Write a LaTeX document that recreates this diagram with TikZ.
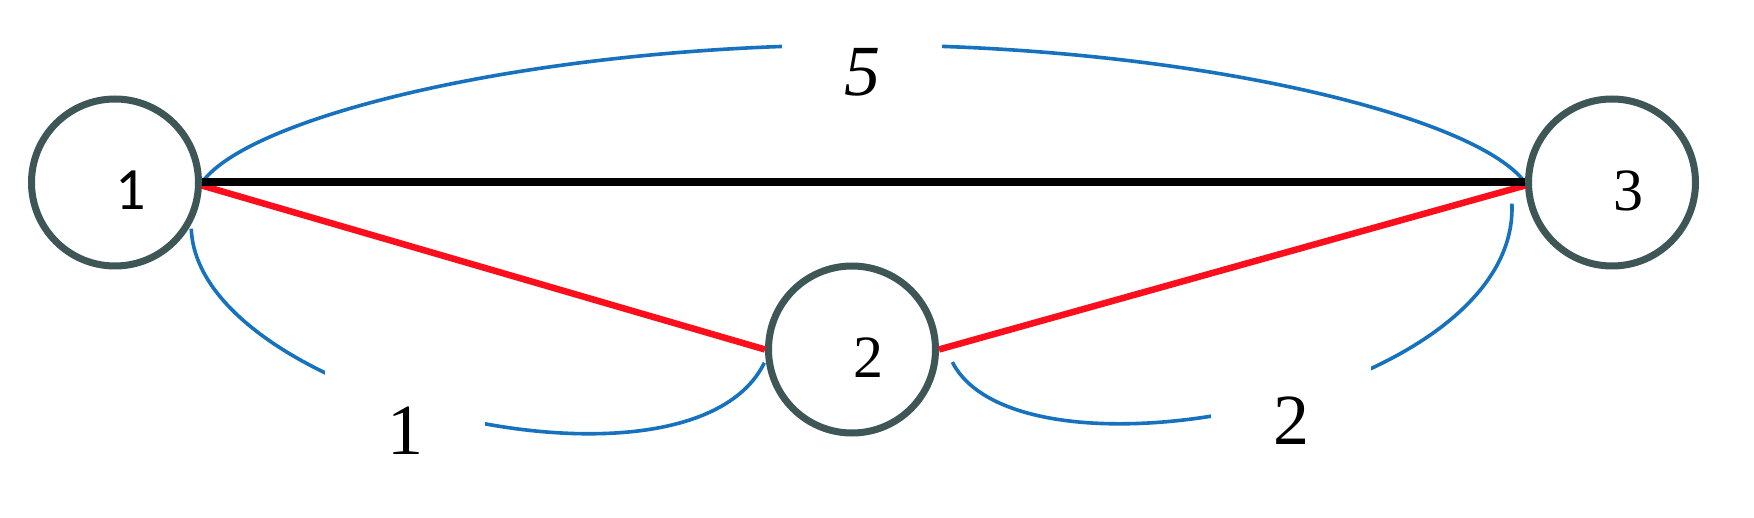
\documentclass[tikz,border=0pt]{standalone}
\usepackage{fontspec}
\setmainfont{Liberation Serif}
\newfontfamily\calibfont{Carlito}
\definecolor{nodegray}{RGB}{62,86,86}
\definecolor{edgeblue}{RGB}{22,114,190}
\definecolor{edgered}{RGB}{252,14,28}
\begin{document}
\begin{tikzpicture}[x=1pt,y=-1pt,
  vertex/.style={circle,draw=nodegray,line width=7pt,fill=white,minimum size=167pt,inner sep=0pt},
  vlabel/.style={font=\fontsize{60}{66}\selectfont,xshift=16pt,yshift=-8pt},
  wlabel/.style={fill=white,minimum width=160pt,minimum height=160pt,inner sep=0pt,font=\fontsize{72}{80}\selectfont},
  bluearc/.style={draw=edgeblue,line width=3.6pt},
  rededge/.style={draw=edgered,line width=6.5pt},
  blackedge/.style={draw=black,line width=8pt}]
\fill[white] (0,0) rectangle (1754,518);
\useasboundingbox (0,0) rectangle (1754,518);
% vertices
\node[vertex,label={[vlabel,font=\calibfont\fontsize{60}{66}\selectfont]center:1}] (n1) at (115,182.5) {};
\node[vertex,label={[vlabel]center:2}] (n2) at (852,349.5) {};
\node[vertex,label={[vlabel]center:3}] (n3) at (1612,182.5) {};
% blue curved edges
\draw[bluearc] (n1.east) .. controls (250,115) and (540,45) .. (863,45)
  .. controls (1186,45) and (1476,115) .. (n3.west);
\draw[bluearc,shorten <=4pt,shorten >=3pt] (n1.-29) .. controls (198,400) and (690,515) .. (n2.-173);
\draw[bluearc] ([shift={(14,2)}]n2.-7) .. controls (1020,495) and (1520,400) .. ([shift={(-15,3)}]n3.-168);
% straight edges
\draw[rededge] (n1.-2) -- (n2.west);
\draw[rededge] (n2.east) -- (n3.182);
\draw[blackedge] (n1.east) -- (n3.west);
% weight labels
\node[wlabel] (w5) at (862,72) {\itshape 5};
\node[wlabel] (w1) at (405,431) {1};
\node[wlabel] (w2) at (1291,421) {2};
\end{tikzpicture}
\end{document}
